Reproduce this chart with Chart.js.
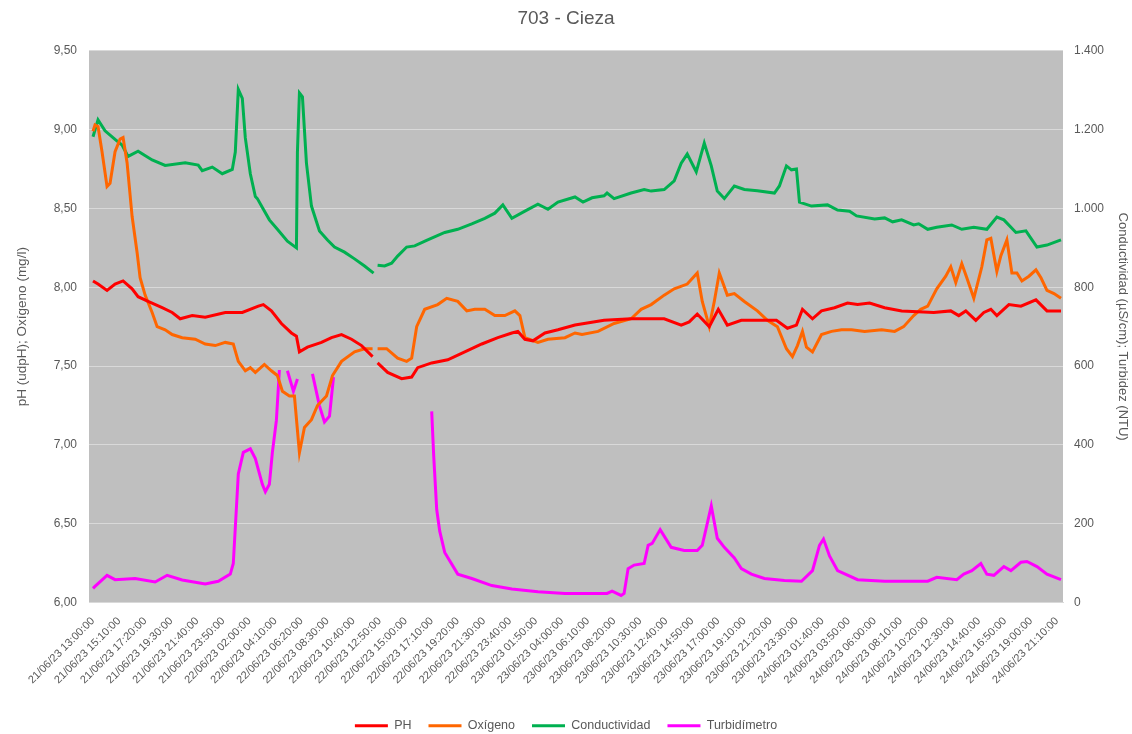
<!DOCTYPE html>
<html>
<head>
<meta charset="utf-8">
<script src="https://cdn.jsdelivr.net/npm/chart.js@4"></script>
<style>
  body { margin: 0; background: #fff; overflow: hidden; }
  #wrap { width: 1132px; height: 734px; }
</style>
</head>
<body>
<div id="wrap"><canvas id="chart"></canvas></div>
<script>
// tick labels of the category axis, one every 130 minutes
const xLabels = [
  '21/06/23 13:00:00', '21/06/23 15:10:00', '21/06/23 17:20:00', '21/06/23 19:30:00',
  '21/06/23 21:40:00', '21/06/23 23:50:00', '22/06/23 02:00:00', '22/06/23 04:10:00',
  '22/06/23 06:20:00', '22/06/23 08:30:00', '22/06/23 10:40:00', '22/06/23 12:50:00',
  '22/06/23 15:00:00', '22/06/23 17:10:00', '22/06/23 19:20:00', '22/06/23 21:30:00',
  '22/06/23 23:40:00', '23/06/23 01:50:00', '23/06/23 04:00:00', '23/06/23 06:10:00',
  '23/06/23 08:20:00', '23/06/23 10:30:00', '23/06/23 12:40:00', '23/06/23 14:50:00',
  '23/06/23 17:00:00', '23/06/23 19:10:00', '23/06/23 21:20:00', '23/06/23 23:30:00',
  '24/06/23 01:40:00', '24/06/23 03:50:00', '24/06/23 06:00:00', '24/06/23 08:10:00',
  '24/06/23 10:20:00', '24/06/23 12:30:00', '24/06/23 14:40:00', '24/06/23 16:50:00',
  '24/06/23 19:00:00', '24/06/23 21:10:00'
];
const tickStep = 130; // minutes between labels

// minutes since 21/06/23 13:00 ; null = no data
const phTime = [0,25,70,110,150,195,225,275,345,395,435,495,560,660,745,825,850,890,940,990,1015,1030,1070,1140,1190,1240,1290,1340,1395,1410,1420,1470,1540,1590,1620,1690,1770,1855,1940,2020,2090,2120,2155,2195,2255,2320,2405,2550,2685,2850,2935,2975,3015,3075,3120,3165,3235,3410,3465,3510,3540,3590,3635,3700,3765,3815,3875,3950,4035,4195,4280,4320,4355,4405,4445,4480,4510,4570,4630,4705,4760,4830];
const phValues = [8.04,8.02,7.98,8.02,8.04,7.99,7.94,7.91,7.87,7.84,7.80,7.82,7.81,7.84,7.84,7.88,7.89,7.85,7.77,7.71,7.69,7.59,7.62,7.65,7.68,7.70,7.67,7.63,7.56,null,7.52,7.46,7.42,7.43,7.49,7.52,7.54,7.59,7.64,7.68,7.71,7.72,7.67,7.66,7.71,7.73,7.76,7.79,7.80,7.80,7.76,7.78,7.83,7.75,7.86,7.76,7.79,7.79,7.74,7.76,7.86,7.80,7.85,7.87,7.90,7.89,7.90,7.87,7.85,7.84,7.85,7.82,7.85,7.79,7.84,7.86,7.82,7.89,7.88,7.92,7.85,7.85];

const oxTime = [0,10,25,45,70,85,110,135,150,170,195,220,235,260,295,320,360,395,445,510,560,610,660,700,725,760,785,810,855,890,920,945,980,1005,1030,1055,1090,1120,1165,1195,1240,1305,1355,1395,1410,1420,1465,1520,1565,1590,1615,1655,1720,1765,1820,1865,1905,1955,2005,2055,2105,2130,2155,2220,2270,2355,2405,2440,2520,2600,2685,2735,2785,2850,2900,2965,3015,3040,3075,3100,3125,3165,3200,3250,3315,3365,3415,3460,3490,3515,3540,3560,3590,3635,3685,3735,3785,3850,3935,4000,4045,4095,4130,4165,4210,4255,4280,4305,4335,4360,4395,4435,4460,4480,4510,4530,4560,4585,4610,4635,4670,4705,4730,4760,4795,4830];
const oxValues = [8.99,9.03,9.02,8.86,8.64,8.66,8.86,8.94,8.95,8.79,8.45,8.22,8.06,7.95,7.84,7.75,7.73,7.70,7.68,7.67,7.64,7.63,7.65,7.64,7.53,7.47,7.49,7.46,7.51,7.47,7.44,7.34,7.31,7.31,6.95,7.11,7.16,7.25,7.31,7.44,7.53,7.59,7.61,7.61,null,7.61,7.61,7.55,7.53,7.55,7.75,7.86,7.89,7.93,7.91,7.85,7.86,7.86,7.82,7.82,7.85,7.82,7.68,7.65,7.67,7.68,7.71,7.70,7.72,7.77,7.80,7.86,7.89,7.95,7.99,8.02,8.09,7.91,7.75,7.91,8.09,7.95,7.96,7.91,7.85,7.79,7.75,7.61,7.56,7.63,7.72,7.62,7.59,7.70,7.72,7.73,7.73,7.72,7.73,7.72,7.75,7.82,7.86,7.88,7.99,8.07,8.13,8.03,8.15,8.06,7.93,8.13,8.30,8.31,8.10,8.20,8.30,8.09,8.09,8.04,8.07,8.11,8.06,7.98,7.96,7.93];

const condTime = [0,25,60,110,145,175,225,295,360,460,525,545,595,645,695,710,725,745,760,785,810,820,850,880,920,970,1015,1020,1030,1045,1065,1090,1130,1170,1205,1255,1305,1355,1400,1410,1420,1455,1490,1520,1565,1605,1670,1755,1820,1890,1955,2005,2045,2090,2155,2220,2270,2320,2405,2445,2490,2550,2565,2600,2685,2750,2785,2850,2900,2935,2965,3010,3050,3085,3115,3150,3200,3250,3315,3400,3425,3460,3485,3510,3525,3585,3665,3715,3775,3810,3900,3950,3990,4035,4095,4120,4165,4210,4285,4335,4395,4460,4510,4545,4605,4655,4710,4760,4830];
const condValues = [1182,1225,1197,1175,1161,1132,1145,1123,1109,1116,1110,1096,1105,1088,1099,1143,1302,1279,1179,1088,1030,1025,998,971,947,917,900,1143,1293,1283,1115,1006,943,920,902,889,872,854,836,null,856,854,861,879,902,905,920,939,947,961,975,988,1009,975,993,1011,998,1016,1029,1016,1027,1032,1039,1025,1039,1048,1044,1048,1070,1115,1138,1093,1166,1108,1044,1025,1057,1048,1045,1039,1057,1108,1098,1100,1016,1006,1009,996,993,981,973,976,966,971,958,961,947,952,958,947,952,947,978,971,939,943,902,907,920];

const turbTime = [0,10,70,110,210,310,370,445,560,625,685,700,725,750,785,810,845,860,880,895,915,930,950,970,1000,1020,1060,1095,1130,1155,1180,1200,1400,1690,1700,1715,1730,1755,1820,1890,1990,2090,2220,2355,2565,2590,2635,2650,2670,2700,2750,2770,2790,2830,2885,2950,3015,3040,3085,3115,3150,3200,3235,3285,3350,3450,3535,3590,3625,3645,3675,3715,3815,3950,4045,4165,4210,4310,4345,4385,4430,4460,4495,4545,4580,4630,4660,4710,4760,4830];
const turbValues = [36,41,69,58,61,52,69,57,47,54,72,99,326,381,390,365,300,281,300,381,462,590,null,588,536,567,null,580,499,458,473,572,null,485,372,236,181,127,72,61,43,34,27,23,23,29,18,23,86,95,99,145,150,185,140,132,132,145,245,163,140,113,86,72,61,56,54,81,145,161,118,81,58,54,54,54,64,58,72,81,99,72,69,91,81,102,104,91,72,58];

const toPoints = (times, values) => times.map((t, i) => ({ x: t, y: values[i] }));

const plotBackground = {
  id: 'plotBackground',
  beforeDraw(chart) {
    const { ctx, chartArea: a } = chart;
    ctx.save();
    ctx.fillStyle = '#BFBFBF';
    ctx.fillRect(a.left, a.top, a.width, a.height);
    ctx.restore();
  }
};

Chart.defaults.font.family = "'Liberation Sans', Arial, sans-serif";
Chart.defaults.color = '#595959';

const line = (label, color, data, axis) => ({
  label: label,
  data: data,
  yAxisID: axis,
  borderColor: color,
  backgroundColor: color,
  borderWidth: 3,
  pointRadius: 0,
  pointHoverRadius: 0,
  tension: 0,
  spanGaps: false
});

new Chart(document.getElementById('chart').getContext('2d'), {
  type: 'line',
  data: {
    datasets: [
      line('PH', '#FF0000', toPoints(phTime, phValues), 'y'),
      line('Oxígeno', '#FF6600', toPoints(oxTime, oxValues), 'y'),
      line('Conductividad', '#00B050', toPoints(condTime, condValues), 'y1'),
      line('Turbidímetro', '#FF00FF', toPoints(turbTime, turbValues), 'y1')
    ]
  },
  options: {
    responsive: true,
    maintainAspectRatio: false,
    animation: false,
    layout: { padding: { top: 0, left: 0, right: 0, bottom: -8 } },
    plugins: {
      title: {
        display: true,
        text: '703 - Cieza',
        color: '#595959',
        font: { size: 19, weight: 'normal' },
        padding: { top: 7, bottom: 21 }
      },
      legend: {
        position: 'bottom',
        labels: {
          usePointStyle: true,
          pointStyle: 'line',
          pointStyleWidth: 33,
          color: '#595959',
          font: { size: 12.5 },
          padding: 17
        }
      },
      tooltip: { enabled: false }
    },
    scales: {
      x: {
        type: 'linear',
        min: -20,
        max: 4840,
        grid: { display: false },
        border: { color: '#D9D9D9' },
        afterBuildTicks: s => { s.ticks = xLabels.map((_, i) => ({ value: i * tickStep })); },
        ticks: {
          autoSkip: false,
          maxRotation: 45,
          minRotation: 45,
          padding: 4,
          font: { size: 11 },
          callback: (v, i) => xLabels[i]
        },
        afterFit: s => { s.height = 100; }
      },
      y: {
        position: 'left',
        min: 6,
        max: 9.5,
        grid: { color: '#D9D9D9', lineWidth: 1, drawTicks: false },
        border: { display: false },
        ticks: {
          stepSize: 0.5,
          padding: 12,
          font: { size: 12 },
          callback: v => v.toFixed(2).replace('.', ',')
        },
        title: {
          display: true,
          text: 'pH (udpH); Oxígeno (mg/l)',
          font: { size: 13.5 },
          padding: { top: 14, bottom: 0 }
        },
        afterFit: s => { s.width = 89; }
      },
      y1: {
        position: 'right',
        min: 0,
        max: 1400,
        grid: { display: false, drawTicks: false },
        border: { display: false },
        ticks: {
          stepSize: 200,
          padding: 11,
          font: { size: 12 },
          callback: v => v.toLocaleString('de-DE')
        },
        title: {
          display: true,
          text: 'Conductividad (µS/cm); Turbidez (NTU)',
          font: { size: 13 },
          padding: { top: 2, bottom: 0 }
        },
        afterFit: s => { s.width = 69; }
      }
    }
  },
  plugins: [plotBackground]
});
</script>
</body>
</html>
